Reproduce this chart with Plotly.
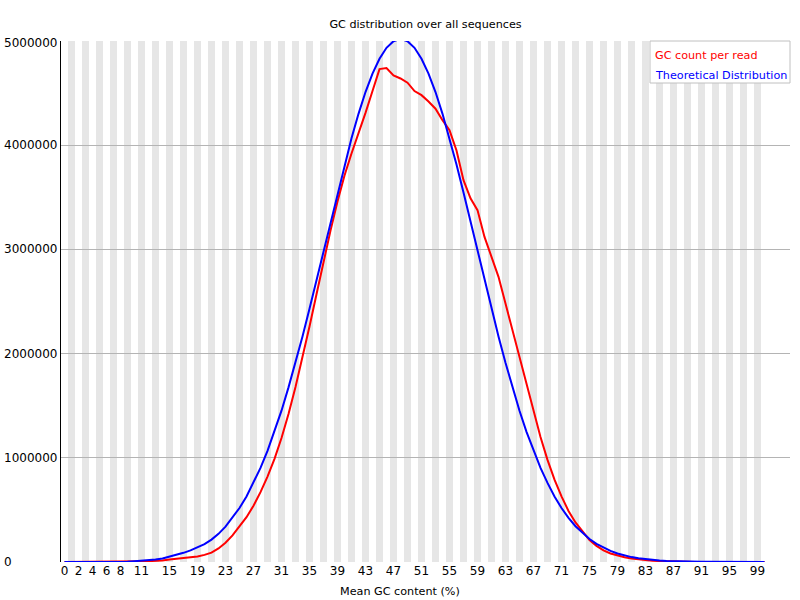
import plotly.graph_objects as go

# ---- data -------------------------------------------------------------
gc_percent = list(range(101))

gc_count_per_read = [
    0, 0, 0, 0, 0, 0, 0, 0, 0, 2000,
    4000, 6000, 8000, 11000, 15000, 25000, 30000, 36000, 43000, 52000,
    68000, 90000, 130000, 185000, 255000, 340000, 430000, 540000, 670000, 820000,
    990000, 1190000, 1420000, 1680000, 1960000, 2260000, 2570000, 2880000, 3180000, 3460000,
    3710000, 3920000, 4110000, 4310000, 4520000, 4730000, 4740000, 4670000, 4640000, 4600000,
    4520000, 4480000, 4420000, 4350000, 4240000, 4145000, 3950000, 3665000, 3490000, 3377000,
    3120000, 2930000, 2737000, 2480000, 2225000, 1960000, 1700000, 1450000, 1200000, 980000,
    790000, 630000, 490000, 380000, 290000, 210000, 155000, 112000, 82000, 60000,
    45000, 34000, 25000, 18000, 13000, 9000, 6000, 4000, 3000, 2000,
    1000, 1000, 800, 600, 400, 300, 200, 100, 100, 0,
    0,
]

theoretical_distribution = [
    0, 0, 0, 0, 0, 0, 0, 0, 0, 3000,
    8000, 12000, 17000, 24000, 34000, 52000, 66000, 88000, 112000, 140000,
    172000, 215000, 270000, 340000, 424000, 518000, 629000, 759000, 903000, 1066000,
    1249000, 1452000, 1676000, 1912000, 2165000, 2431000, 2705000, 2986000, 3270000, 3545000,
    3814000, 4067000, 4301000, 4510000, 4687000, 4830000, 4935000, 4998000, 5020000, 4998000,
    4935000, 4830000, 4687000, 4510000, 4301000, 4067000, 3814000, 3545000, 3270000, 2986000,
    2705000, 2431000, 2165000, 1912000, 1676000, 1452000, 1249000, 1066000, 903000, 759000,
    629000, 518000, 424000, 343000, 277000, 221000, 175000, 137000, 106000, 81000,
    62000, 47000, 35000, 26000, 19000, 14000, 10000, 7000, 5000, 3500,
    2500, 2000, 1500, 1000, 800, 600, 400, 300, 200, 100,
    100,
]

x_tick_labels = [0, 2, 4, 6, 8] + list(range(11, 100, 4))
y_tick_values = [0, 1000000, 2000000, 3000000, 4000000, 5000000]

series_names = ["GC count per read", "Theoretical Distribution"]
series_colors = ["#ff0000", "#0000ff"]

# ---- layout geometry (pixels) ------------------------------------------
W, H = 800, 600
ML, MR, MT, MB = 61, 10, 41, 38
PW, PH = W - ML - MR, H - MT - MB
FONT = "DejaVu Sans"
TEXT_SIZE = 11.2


def px_x(p):
    return (p - ML) / PW


def px_y(p):
    return 1 - (p - MT) / PH


fig = go.Figure()

for name, ys, col in zip(series_names, [gc_count_per_read, theoretical_distribution], series_colors):
    fig.add_trace(go.Scatter(
        x=gc_percent, y=ys, mode="lines", name=name,
        line=dict(color=col, width=2), cliponaxis=False, hoverinfo="skip",
        showlegend=False,
    ))

# alternating background stripes (one per category)
shapes = []
for i in gc_percent:
    if i % 2 == 1:
        shapes.append(dict(type="rect", xref="x", yref="paper", x0=i - 0.5, x1=i + 0.5,
                           y0=0, y1=1, fillcolor="#e6e6e6", line=dict(width=0), layer="below"))

# legend box
shapes.append(dict(type="rect", xref="paper", yref="paper",
                   x0=px_x(650), x1=px_x(790), y0=px_y(83), y1=px_y(41),
                   fillcolor="white", line=dict(color="#c0c0c0", width=1), layer="above"))

annotations = []
# legend entries
for name, col, yc in zip(series_names, series_colors, [55.5, 75]):
    annotations.append(dict(text=name, xref="paper", yref="paper", x=px_x(653), y=px_y(yc),
                            xanchor="left", yanchor="middle", showarrow=False,
                            font=dict(family=FONT, size=TEXT_SIZE, color=col)))
# y tick labels (left aligned as in the original)
for v in y_tick_values:
    annotations.append(dict(text=str(v), xref="paper", yref="y", x=px_x(2), y=v,
                            xanchor="left", yanchor="middle", showarrow=False,
                            yshift=-2 if v == max(y_tick_values) else 0,
                            font=dict(family=FONT, size=12, color="black")))
# x axis title
annotations.append(dict(text="Mean GC content (%)", xref="paper", yref="paper",
                        x=px_x(400), y=px_y(591), xanchor="center", yanchor="middle",
                        showarrow=False, font=dict(family=FONT, size=TEXT_SIZE, color="black")))

fig.update_layout(
    width=W, height=H,
    margin=dict(l=ML, r=MR, t=MT, b=MB, pad=0),
    paper_bgcolor="white", plot_bgcolor="white",
    font=dict(family=FONT, size=12, color="black"),
    title=dict(text="GC distribution over all sequences", x=px_x(425.5), xref="paper",
               xanchor="center", y=1 - 24 / H, yref="container", yanchor="middle",
               font=dict(family=FONT, size=TEXT_SIZE, color="black")),
    shapes=shapes,
    annotations=annotations,
    showlegend=False,
    hovermode=False,
)

fig.update_xaxes(
    range=[-0.5, (790 - 64.5) / 7], showgrid=False, zeroline=False, showline=False,
    tickmode="array", tickvals=x_tick_labels, ticktext=[str(t) for t in x_tick_labels],
    ticks="", tickfont=dict(family=FONT, size=12, color="black"), fixedrange=True,
)
fig.update_yaxes(
    range=[0, 5000000], showgrid=True, gridcolor="#b4b4b4", gridwidth=1,
    zeroline=False, showline=True, linecolor="black", linewidth=1,
    tickmode="array", tickvals=y_tick_values, showticklabels=False, ticks="",
    fixedrange=True,
)

fig.write_html("out.html", config={"displayModeBar": False})
